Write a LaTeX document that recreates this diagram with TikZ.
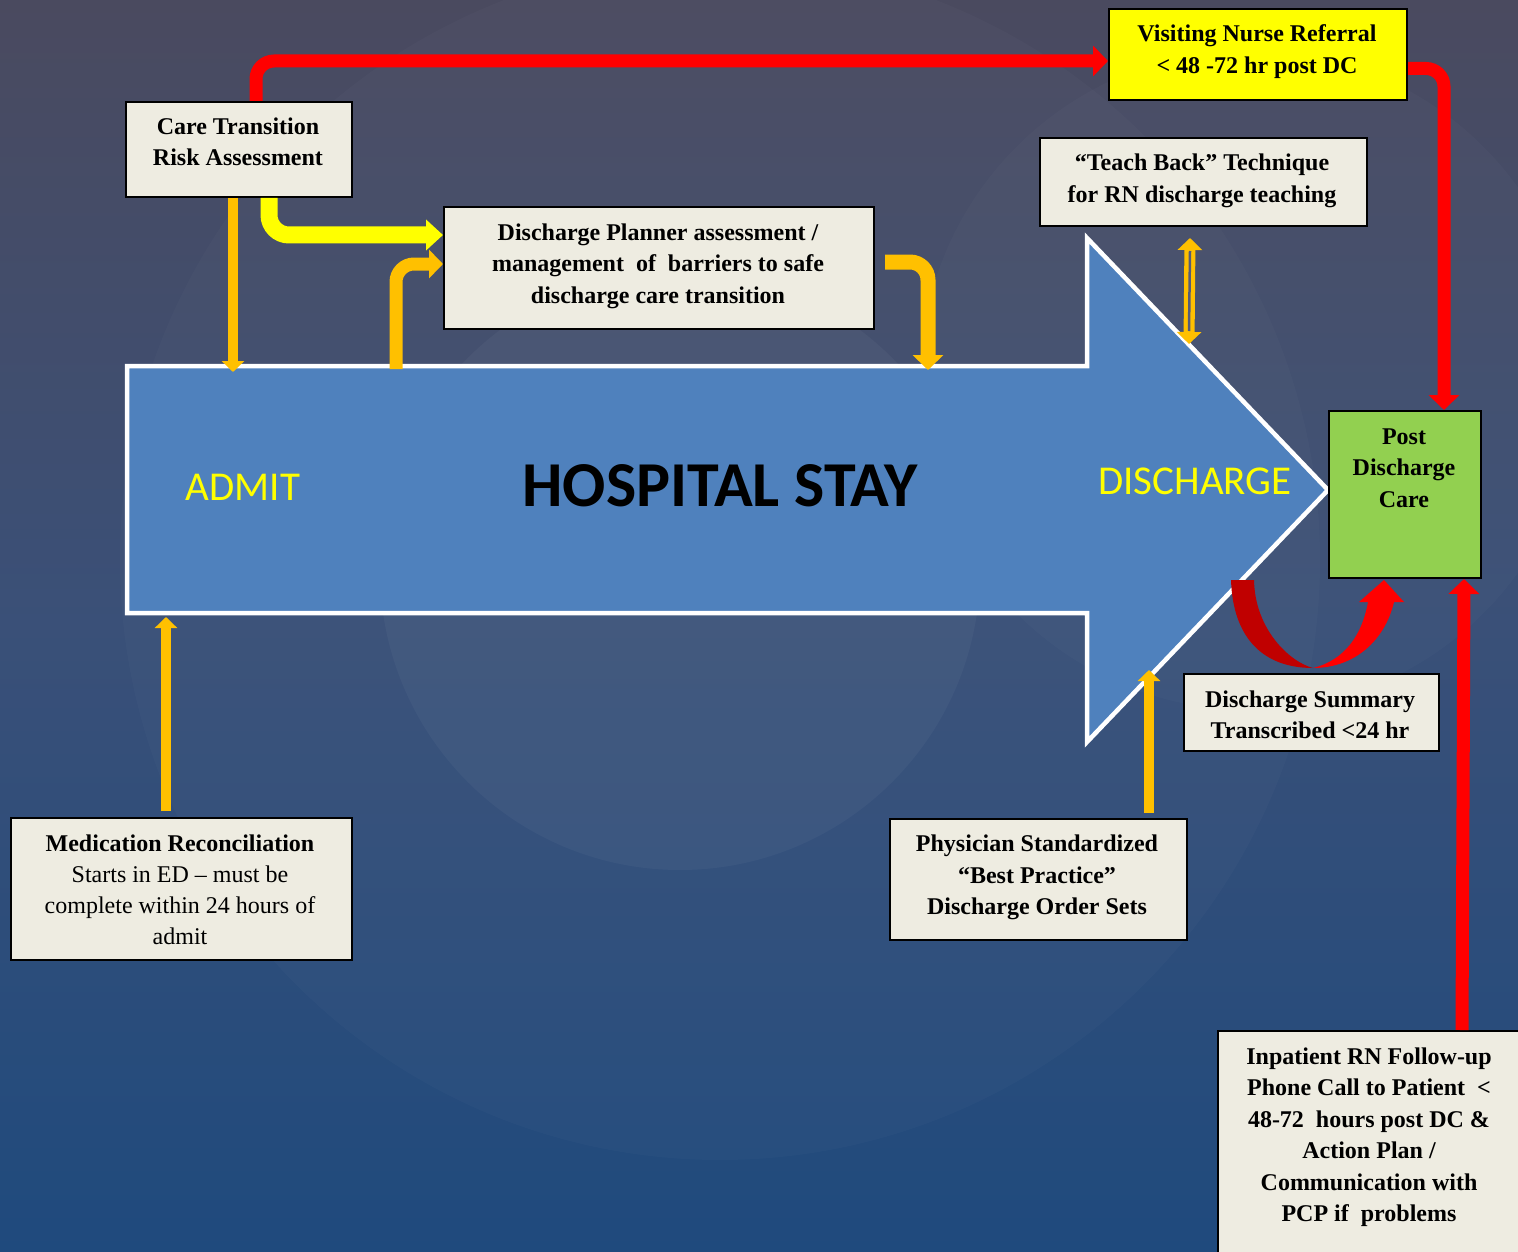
\documentclass[tikz,border=0pt]{standalone}
\usepackage{fontspec}
\setmainfont{Liberation Serif}
\newfontfamily\calib{Carlito}
\usetikzlibrary{arrows.meta,calc}

\definecolor{bgtop}{HTML}{4A4A5F}
\definecolor{bgmid}{HTML}{3A5078}
\definecolor{bgbot}{HTML}{1F4A7D}
\definecolor{boxfill}{HTML}{EEECE1}
\definecolor{stayblue}{HTML}{4F81BD}
\definecolor{amber}{HTML}{FFC000}
\definecolor{hotred}{HTML}{FF0000}
\definecolor{darkred}{HTML}{C00000}
\definecolor{lime}{HTML}{92D050}
\definecolor{sunny}{HTML}{FFFF00}
\definecolor{gapgray}{HTML}{535B7A}

\begin{document}
\begin{tikzpicture}[x=1pt,y=-1pt,
  box/.style={draw=black, line width=2pt, fill=boxfill, inner sep=0pt, anchor=north west},
  txt/.style={align=center, inner sep=0pt, text=black,
              font=\fontsize{24}{31.5}\selectfont\bfseries},
  redline/.style={draw=hotred, line width=13pt, rounded corners=18pt,
                  -{Triangle[length=15pt,width=30pt]}},
  yelline/.style={draw=sunny, line width=17pt, rounded corners=20pt,
                  -{Triangle[length=17pt,width=30pt]}},
  ambthick/.style={draw=amber, line width=14pt, rounded corners=18pt,
                  -{Triangle[length=14pt,width=28pt]}},
  ambthin/.style={draw=amber, line width=10pt,
                  -{Triangle[length=11pt,width=22pt]}},
  bigword/.style={inner sep=0pt, font=\calib\fontsize{41}{41}\selectfont, text=sunny}
]
% page and backdrop
\clip (0,0) rectangle (1518,1252);
\shade[top color=bgtop, bottom color=bgbot, middle color=bgmid] (0,0) rectangle (1518,1252);
\fill[white, opacity=0.02] (720,560) circle (600pt);
\fill[white, opacity=0.035] (680,570) circle (300pt);
\fill[white, opacity=0.02] (1250,380) circle (330pt);

% the hospital stay arrow
\coordinate (s1) at (127,366);
\coordinate (s2) at (1087,366);
\coordinate (s3) at (1087,238);
\coordinate (tip) at (1328,490);
\coordinate (s5) at (1087,742);
\coordinate (s6) at (1087,613);
\coordinate (s7) at (127,613);
\draw[fill=stayblue, draw=white, line width=4.5pt, line join=miter]
  (s1) -- (s2) -- (s3) -- (tip) -- (s5) -- (s6) -- (s7) -- cycle;
\node[bigword] (admit) at (243,487) {ADMIT};
\node[bigword] (dcword) at (1195,481) {DISCHARGE};
\node[inner sep=0pt, font=\calib\bfseries\fontsize{64}{64}\selectfont] (stay) at (720,486) {HOSPITAL STAY};

% boxes
\node[box, minimum width=226pt, minimum height=95pt] (ct) at (125,101) {};
\node[txt] (ct-t) at (238,142) {Care Transition\\Risk Assessment};

\node[box, fill=sunny, minimum width=298pt, minimum height=91pt] (vn) at (1108,8) {};
\node[txt] (vn-t) at (1257,51.5) {Visiting Nurse Referral\\< 48 -72 hr post DC};

\node[box, minimum width=430pt, minimum height=122pt] (dp) at (443,206) {};
\node[txt] (dp-t) at (658,266) {Discharge Planner assessment /\\management\ \ of\ \ barriers to safe\\discharge care transition};

\node[box, minimum width=327pt, minimum height=88pt] (tb) at (1039,137) {};
\node[txt] (tb-t) at (1202,181) {“Teach Back” Technique\\for RN discharge teaching};

\node[box, fill=lime, minimum width=152pt, minimum height=167pt] (pdc) at (1328,410) {};
\node[txt] (pdc-t) at (1404,468) {Post\\Discharge\\Care};

\node[box, minimum width=255pt, minimum height=77pt] (ds) at (1183,673) {};
\node[txt] (ds-t) at (1310,715) {Discharge Summary\\Transcribed <24 hr};

\node[box, minimum width=297pt, minimum height=121pt] (ps) at (889,818) {};
\node[txt] (ps-t) at (1037,877.5) {Physician Standardized\\“Best Practice”\\Discharge Order Sets};

\node[box, minimum width=341pt, minimum height=142pt] (mr) at (10,817) {};
\node[txt, font=\fontsize{24}{31}\selectfont] (mr-t) at (180,890)
  {\textbf{Medication Reconciliation}\\Starts in ED – must be\\complete within 24 hours of\\admit};

\node[box, minimum width=304pt, minimum height=240pt] (ip) at (1217,1030) {};
\node[txt] (ip-t) at (1369,1137) {Inpatient RN Follow-up\\Phone Call to Patient\ \ <\\48-72\ \ hours post DC \&\\Action Plan /\\Communication with\\PCP if\ \ problems};

% entry points on the stay arrow
\coordinate (admitIn) at (233,372);
\coordinate (planOut) at (396,369);
\coordinate (planIn) at (928,370);
\coordinate (teachTip) at (1189,344);
\coordinate (ordersIn) at (1149,670);
\coordinate (medIn) at (166,617);

% red referral / follow-up lines
\draw[redline] ([xshift=131pt]ct.north west) |- ([yshift=-6.5pt]vn.west);
\draw[redline] ([yshift=-14pt]vn.east) -| ([xshift=39pt]pdc.north);
\draw[redline, rounded corners=0pt] ([xshift=245pt]ip.north west) -- ([xshift=-18pt]pdc.south east);

% yellow and amber connectors
\draw[yelline] ([xshift=144pt]ct.south west) |- ([yshift=33pt]dp.west);
\draw[ambthin] ([xshift=108pt]ct.south west) -- (admitIn);
\draw[ambthick, line width=13pt] (planOut) |- ([yshift=4pt]dp.west);
\draw[ambthick, line width=15pt, -{Triangle[length=15pt,width=30pt]}]
  ([xshift=10pt,yshift=6pt]dp.east) -| (planIn);
\draw[ambthin] ([xshift=260pt,yshift=5pt]ps.north west) -- (ordersIn);
\draw[ambthin] ([xshift=156pt,yshift=6pt]mr.north west) -- (medIn);

% two-way teach-back arrow
\draw[draw=amber, line width=11pt, {Triangle[length=12pt,width=24pt]}-{Triangle[length=12pt,width=24pt]}]
  ([xshift=-13.5pt,yshift=-11pt]tb.south) -- (teachTip);
\draw[draw=gapgray, line width=2.5pt] ([xshift=-13.5pt,yshift=-24pt]tb.south) -- ([yshift=13pt]teachTip);

% curved summary arrow into post discharge care
\fill[darkred] (1231,580) .. controls (1233,640) and (1265,668) .. (1313,668)
  .. controls (1290,662) and (1255,630) .. (1254,580) -- cycle;
\fill[hotred] (1313,668) .. controls (1355,668) and (1385,640) .. (1394,602)
  -- (1404,602) -- (1384,580) -- (1359,602) -- (1368,602)
  .. controls (1362,635) and (1345,660) .. (1313,668) -- cycle;
\end{tikzpicture}
\end{document}
